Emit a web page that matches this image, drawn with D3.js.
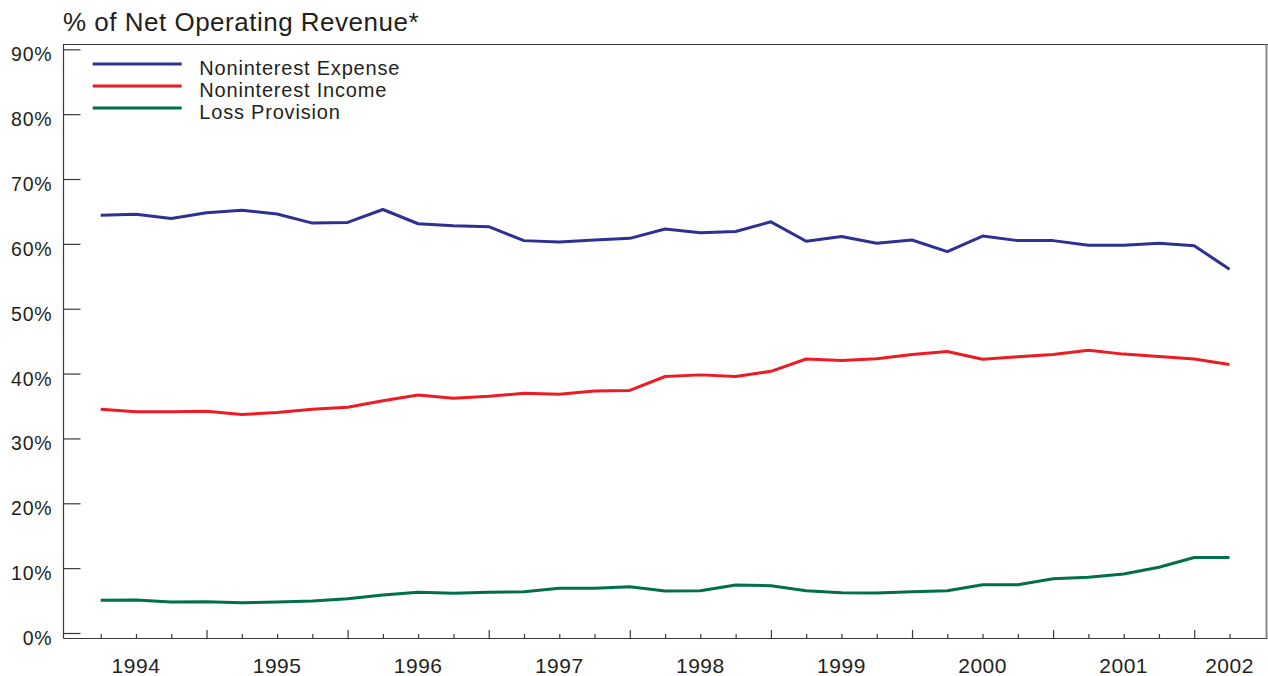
<!DOCTYPE html>
<html>
<head>
<meta charset="utf-8">
<script src="https://cdn.jsdelivr.net/npm/d3@7"></script>
<style>
  body { margin: 0; background: #fff; }
  svg text { font-family: "Liberation Sans", Arial, Helvetica, sans-serif; fill: #231f20; }
</style>
</head>
<body>
<div id="chart"></div>
<script>
// quarters, one per point
var quarters = [
  '1994Q1', '1994Q2', '1994Q3', '1994Q4',
  '1995Q1', '1995Q2', '1995Q3', '1995Q4',
  '1996Q1', '1996Q2', '1996Q3', '1996Q4',
  '1997Q1', '1997Q2', '1997Q3', '1997Q4',
  '1998Q1', '1998Q2', '1998Q3', '1998Q4',
  '1999Q1', '1999Q2', '1999Q3', '1999Q4',
  '2000Q1', '2000Q2', '2000Q3', '2000Q4',
  '2001Q1', '2001Q2', '2001Q3', '2001Q4',
  '2002Q1'
];
// year labels and the quarter under which each one sits
var yearLabels = ['1994', '1995', '1996', '1997', '1998', '1999', '2000', '2001', '2002'];
var yearLabelAt = ['1994Q2', '1995Q2', '1996Q2', '1997Q2', '1998Q2', '1999Q2', '2000Q2', '2001Q2', '2002Q1'];
var yTicks = [0, 10, 20, 30, 40, 50, 60, 70, 80, 90];

var seriesNames = ['Noninterest Expense', 'Noninterest Income', 'Loss Provision'];
var expense = [64.4, 64.55, 63.9, 64.8, 65.2, 64.6, 63.2, 63.3, 65.3, 63.1, 62.8, 62.65,
  60.5, 60.3, 60.6, 60.85, 62.3, 61.7, 61.9, 63.4, 60.4, 61.15, 60.1, 60.6,
  58.8, 61.2, 60.5, 60.5, 59.8, 59.8, 60.1, 59.7, 56.1];
var income = [34.5, 34.1, 34.1, 34.2, 33.7, 34.0, 34.5, 34.8, 35.8, 36.7, 36.2, 36.5,
  36.95, 36.8, 37.3, 37.4, 39.55, 39.8, 39.55, 40.35, 42.25, 42.0, 42.3, 42.95,
  43.4, 42.2, 42.6, 42.95, 43.6, 43.0, 42.65, 42.25, 41.4];
var provision = [5.04, 5.09, 4.78, 4.83, 4.67, 4.78, 4.93, 5.29, 5.86, 6.27, 6.12, 6.27,
  6.37, 6.89, 6.89, 7.14, 6.48, 6.52, 7.4, 7.3, 6.52, 6.21, 6.17, 6.37,
  6.52, 7.45, 7.45, 8.37, 8.58, 9.1, 10.13, 11.64, 11.64];
var colors = ['#2e3192', '#ed1c24', '#00704a'];

var width = 1268, height = 676;
var box = { left: 63.5, right: 1266.5, top: 44.5, bottom: 638.5 };

var svg = d3.select('#chart').append('svg')
  .attr('width', width)
  .attr('height', height);

// scales
var x = d3.scalePoint()
  .domain(quarters)
  .range([100.7, 1229.5]);
var y = d3.scaleLinear()
  .domain([0, 90])
  .range([633, 49.3]);

// title
svg.append('text')
  .attr('x', 63)
  .attr('y', 30.5)
  .style('font-size', '26px')
  .style('letter-spacing', '0.5px')
  .text('% of Net Operating Revenue*');

// frame
svg.append('path')
  .attr('d', 'M' + box.left + ',' + box.bottom + 'V' + box.top + 'H' + (box.right + 2))
  .attr('fill', 'none')
  .attr('stroke', '#3a3a3a')
  .attr('stroke-width', 1.2);
svg.append('line')
  .attr('x1', box.left).attr('x2', box.right + 1)
  .attr('y1', box.bottom).attr('y2', box.bottom)
  .attr('stroke', '#3a3a3a')
  .attr('stroke-width', 1.2);
svg.append('line')
  .attr('x1', box.right).attr('x2', box.right)
  .attr('y1', box.top).attr('y2', box.bottom)
  .attr('stroke', '#8a8a8a')
  .attr('stroke-width', 2);

// y axis, ticks point inward
var yAxis = d3.axisRight(y)
  .tickValues(yTicks)
  .tickSize(17)
  .tickFormat(function(d) { return d + '%'; });
var yg = svg.append('g')
  .attr('transform', 'translate(' + box.left + ',0)')
  .call(yAxis);
yg.select('.domain').remove();
yg.selectAll('.tick line').attr('stroke', '#3a3a3a').attr('stroke-width', 1.2);
yg.selectAll('.tick text')
  .attr('x', -11)
  .attr('dy', 11.5)
  .attr('text-anchor', 'end')
  .style('font-size', '19.5px')
  .style('letter-spacing', '0.8px')
  .style('font-family', '"Liberation Sans", Arial, sans-serif');

// x axis ticks, longer at the fourth quarter
var xAxis = d3.axisTop(x)
  .tickSize(0)
  .tickFormat('');
var xg = svg.append('g')
  .attr('transform', 'translate(0,' + box.bottom + ')')
  .call(xAxis);
xg.select('.domain').remove();
xg.selectAll('.tick line')
  .attr('y2', function(d) { return /Q4$/.test(d) ? -8.5 : -4.5; })
  .attr('stroke', '#3a3a3a')
  .attr('stroke-width', 1.2);

svg.append('g').selectAll('text')
  .data(yearLabels)
  .enter()
  .append('text')
  .attr('x', function(d, i) { return x(yearLabelAt[i]); })
  .attr('y', 673)
  .attr('text-anchor', 'middle')
  .style('font-size', '21px')
  .style('letter-spacing', '0.5px')
  .text(function(d) { return d; });

// lines
var line = d3.line()
  .x(function(d, i) { return x(quarters[i]); })
  .y(function(d) { return y(d); });

[expense, income, provision].forEach(function(values, k) {
  svg.append('path')
    .datum(values)
    .attr('fill', 'none')
    .attr('stroke', colors[k])
    .attr('stroke-width', 3)
    .attr('stroke-linejoin', 'round')
    .attr('d', line);
});

// legend
var legend = svg.selectAll('.legend')
  .data(seriesNames)
  .enter()
  .append('g')
  .attr('class', 'legend')
  .attr('transform', function(d, i) {
    return 'translate(0,' + (64 + i * 22) + ')';
  });
legend.append('line')
  .attr('x1', 92.7).attr('x2', 181.7)
  .attr('stroke', function(d, i) { return colors[i]; })
  .attr('stroke-width', 2.8);
legend.append('text')
  .attr('x', 199.3)
  .attr('y', 11)
  .style('font-size', '20px')
  .style('letter-spacing', '0.8px')
  .text(function(d) { return d; });
</script>
</body>
</html>
